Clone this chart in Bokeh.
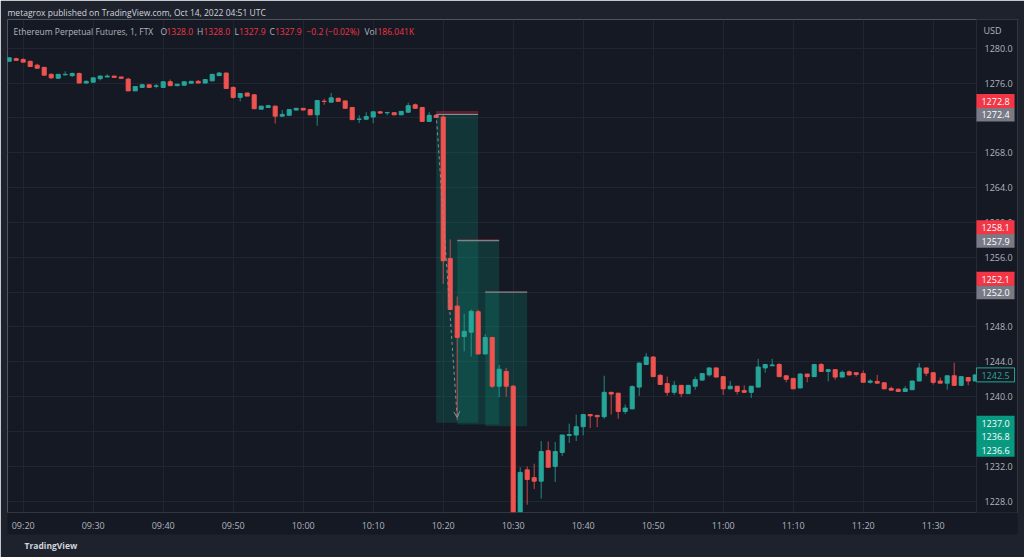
import pandas as pd
from bokeh.plotting import figure
from bokeh.models import (ColumnDataSource, LinearAxis, DatetimeAxis, FixedTicker,
                          DatetimeTickFormatter, NumeralTickFormatter, Label, Arrow,
                          OpenHead, Grid, Range1d, Title)
from bokeh.embed import file_html
from bokeh.resources import INLINE

# ---------------- data ----------------
session_day = "2022-10-13"
first_bar = "09:18"

opens = [1278.5, 1278.8, 1278.7, 1278.5, 1278.05, 1277.8, 1277.0, 1276.55, 1276.95, 1276.85,
         1277.1, 1276.0, 1276.1, 1276.5, 1276.7, 1276.8, 1276.7, 1276.45, 1275.1, 1275.5,
         1275.8, 1275.62, 1275.5, 1276.15, 1275.7, 1275.75, 1275.98, 1276.2, 1276.0, 1276.25,
         1276.85, 1277.15, 1275.5, 1274.35, 1274.85, 1274.65, 1273.0, 1273.2, 1273.35, 1272.2,
         1272.3, 1272.9, 1273.1, 1272.95, 1272.35, 1273.92, 1273.8, 1274.25, 1273.95, 1273.2,
         1271.83, 1271.85, 1272.1, 1272.7, 1272.58, 1272.6, 1272.35, 1272.65, 1273.5, 1273.2,
         1271.6, 1272.3, 1272.1, 1255.85, 1250.4, 1246.9, 1247.4, 1249.75, 1244.9, 1246.8,
         1241.2, 1242.9, 1241.2, 1226.2, 1231.6, 1230.7, 1230.3, 1233.8, 1232.0, 1233.6,
         1235.55, 1235.6, 1236.55, 1237.95, 1237.85, 1237.7, 1240.5, 1240.4, 1238.3, 1238.6,
         1241.1, 1243.7, 1244.55, 1242.45, 1241.5, 1240.5, 1241.3, 1240.35, 1241.2, 1241.9,
         1242.5, 1243.3, 1242.3, 1240.9, 1241.2, 1240.7, 1240.5, 1241.1, 1243.3, 1243.55,
         1243.7, 1242.4, 1242.1, 1241.0, 1242.6, 1242.3, 1243.7, 1242.9, 1243.1, 1242.25,
         1242.85, 1242.75, 1242.65, 1241.65, 1241.75, 1241.6, 1240.95, 1240.85, 1240.6, 1240.8,
         1241.8, 1243.3, 1242.75, 1241.8, 1241.55, 1242.4, 1241.3, 1242.2, 1241.8]
highs = [1278.9, 1278.9, 1278.85, 1278.5, 1278.2, 1277.8, 1277.1, 1277.0, 1277.35, 1277.2,
         1277.2, 1276.3, 1276.6, 1276.87, 1277.0, 1276.8, 1276.7, 1276.6, 1275.6, 1275.9,
         1275.8, 1275.9, 1276.15, 1276.4, 1275.87, 1276.15, 1276.2, 1276.35, 1276.4, 1277.0,
         1277.25, 1277.15, 1275.6, 1274.8, 1274.9, 1274.75, 1273.35, 1273.5, 1273.4, 1272.9,
         1272.95, 1273.1, 1273.1, 1273.0, 1274.05, 1274.2, 1274.85, 1274.3, 1273.95, 1273.2,
         1272.3, 1272.65, 1272.7, 1272.8, 1272.7, 1272.6, 1272.75, 1273.75, 1273.65, 1273.2,
         1272.65, 1272.4, 1272.3, 1258.05, 1251.5, 1249.5, 1250.0, 1250.0, 1247.2, 1246.8,
         1243.65, 1243.3, 1241.35, 1231.9, 1232.0, 1232.3, 1234.9, 1234.85, 1234.8, 1235.6,
         1236.9, 1237.95, 1237.95, 1237.95, 1237.85, 1242.4, 1240.55, 1240.4, 1239.1, 1241.3,
         1243.95, 1245.0, 1244.65, 1242.6, 1242.3, 1241.8, 1241.3, 1241.3, 1242.3, 1242.65,
         1243.3, 1243.3, 1242.3, 1241.8, 1241.2, 1241.3, 1241.2, 1244.35, 1243.7, 1244.35,
         1243.85, 1242.4, 1242.1, 1242.7, 1242.6, 1243.7, 1243.85, 1243.1, 1243.1, 1243.0,
         1243.0, 1242.75, 1243.0, 1242.0, 1242.5, 1241.6, 1241.15, 1240.95, 1241.2, 1241.8,
         1243.85, 1243.3, 1242.75, 1242.2, 1242.4, 1243.9, 1242.3, 1242.2, 1242.5]
lows = [1278.5, 1278.6, 1278.4, 1277.9, 1277.7, 1276.9, 1276.45, 1276.55, 1276.85, 1276.7,
        1276.0, 1275.95, 1276.1, 1276.3, 1276.65, 1276.65, 1276.45, 1275.1, 1275.1, 1275.5,
        1275.5, 1275.4, 1275.5, 1275.7, 1275.7, 1275.75, 1275.98, 1276.0, 1275.95, 1276.25,
        1276.85, 1275.37, 1274.2, 1273.9, 1274.5, 1273.05, 1273.0, 1273.2, 1271.35, 1272.2,
        1272.3, 1272.9, 1272.9, 1272.35, 1271.1, 1273.5, 1273.8, 1273.9, 1273.1, 1271.8,
        1271.4, 1271.85, 1271.4, 1272.45, 1272.3, 1272.35, 1272.35, 1272.65, 1273.1, 1271.6,
        1271.6, 1272.05, 1252.95, 1250.0, 1237.3, 1245.2, 1244.6, 1244.9, 1244.9, 1241.0,
        1239.95, 1240.0, 1226.0, 1226.0, 1227.6, 1229.4, 1228.3, 1231.9, 1230.2, 1233.2,
        1234.7, 1234.9, 1235.55, 1236.4, 1236.5, 1237.45, 1237.95, 1237.45, 1238.0, 1238.6,
        1240.1, 1243.7, 1242.3, 1241.4, 1240.1, 1240.2, 1239.95, 1240.35, 1240.8, 1241.9,
        1242.3, 1242.25, 1240.2, 1240.9, 1240.25, 1240.5, 1239.85, 1241.1, 1242.75, 1243.5,
        1242.3, 1241.65, 1240.9, 1241.0, 1241.65, 1242.3, 1242.9, 1241.75, 1241.95, 1242.25,
        1242.4, 1242.3, 1241.65, 1241.5, 1241.55, 1240.9, 1240.75, 1240.6, 1240.6, 1240.8,
        1241.8, 1242.35, 1241.4, 1241.55, 1240.8, 1241.3, 1241.3, 1241.3, 1241.8]
closes = [1278.9, 1278.6, 1278.4, 1277.9, 1277.7, 1276.9, 1276.6, 1277.0, 1277.0, 1277.1,
          1276.0, 1276.2, 1276.6, 1276.8, 1276.8, 1276.65, 1276.55, 1275.1, 1275.6, 1275.8,
          1275.5, 1275.68, 1276.15, 1275.7, 1275.87, 1276.15, 1276.2, 1276.0, 1276.4, 1277.0,
          1277.15, 1275.37, 1274.35, 1274.8, 1274.5, 1273.05, 1273.35, 1273.4, 1272.2, 1272.4,
          1272.95, 1273.1, 1272.9, 1272.35, 1274.0, 1273.88, 1274.3, 1273.9, 1273.1, 1271.8,
          1271.87, 1272.15, 1272.7, 1272.55, 1272.62, 1272.35, 1272.75, 1273.4, 1273.1, 1271.6,
          1272.3, 1272.05, 1255.6, 1250.0, 1246.8, 1247.5, 1249.8, 1244.9, 1246.8, 1241.2,
          1243.15, 1241.2, 1226.0, 1231.3, 1230.5, 1230.3, 1233.7, 1231.9, 1233.7, 1235.6,
          1235.65, 1236.55, 1237.95, 1237.8, 1237.7, 1240.5, 1240.3, 1238.3, 1238.7, 1241.15,
          1243.85, 1244.55, 1242.3, 1241.4, 1240.5, 1241.3, 1240.35, 1241.3, 1241.95, 1242.65,
          1243.3, 1242.25, 1240.9, 1241.2, 1240.6, 1240.5, 1241.2, 1243.4, 1243.7, 1243.65,
          1242.3, 1242.0, 1240.9, 1242.6, 1242.3, 1243.7, 1242.9, 1243.1, 1242.25, 1242.8,
          1242.5, 1242.55, 1241.65, 1241.8, 1241.55, 1240.9, 1240.75, 1240.6, 1240.9, 1241.8,
          1243.3, 1242.7, 1241.65, 1241.55, 1242.4, 1241.3, 1242.3, 1241.8, 1242.5]

time_tick_labels = ["09:20", "09:30", "09:40", "09:50", "10:00", "10:10", "10:20",
                    "10:30", "10:40", "10:50", "11:00", "11:10", "11:20", "11:30"]
price_ticks = [1228, 1232, 1236, 1240, 1244, 1248, 1252, 1256, 1260, 1264, 1268, 1272, 1276, 1280]

# short-position drawing tools
pos_start = ["10:19", "10:22", "10:26"]
pos_end = ["10:25", "10:28", "10:32"]
pos_entry = [1272.4, 1257.9, 1252.0]
pos_stop = [1272.8, 1258.1, 1252.1]
pos_target = [1237.0, 1236.8, 1236.6]

arrow_times = ["10:19", "10:22"]
arrow_prices = [1272.4, 1237.6]

last_price = 1242.5

header_text = "metagrox published on TradingView.com, Oct 14, 2022 04:51 UTC"
footer_text = "TradingView"
symbol_text = "Ethereum Perpetual Futures, 1, FTX"
ohlc_keys = ["O", "H", "L", "C"]
ohlc_vals = ["1328.0", "1328.0", "1327.9", "1327.9"]
change_text = "\u22120.2 (\u22120.02%)"
vol_key = "Vol"
vol_val = "186.041K"
currency = "USD"

# ---------------- helpers ----------------
EPOCH = pd.Timestamp("1970-01-01")
MIN = 60000.0


def ms(hhmm):
    return (pd.Timestamp(f"{session_day} {hhmm}") - EPOCH) / pd.Timedelta(milliseconds=1)


t0 = ms(first_bar)
times = [t0 + i * MIN for i in range(len(opens))]

# canvas geometry (px)
W, H = 1024, 557
FL, FR, FT, FB = 7, 1017, 19, 512   # frame: chart pane incl. price scale column
SCALE_L = 976                        # left edge of the price scale column
PX_PER_MIN = 7.0
X0_PX = 8.7                          # pixel of first bar


def px_x(px):
    return t0 + (px - X0_PX) / PX_PER_MIN * MIN


x_start, x_end = px_x(FL), px_x(FR)
y_top = 1283.294
y_bot = 1226.705


def px_y(py):
    return y_top - (py - FT) / (FB - FT) * (y_top - y_bot)


def y_px(price):
    return FT + (y_top - price) / (y_top - y_bot) * (FB - FT)


BG = "#151924"
OUTER = "#1e222d"
GRID = "#212531"
UP = "#26a69a"
DOWN = "#ef5350"
TXT = "#b2b5be"
FONT = "Open Sans"

p = figure(width=W, height=H, output_backend="svg", toolbar_location=None,
           x_axis_location=None, y_axis_location=None,
           x_range=Range1d(x_start, x_end), y_range=Range1d(y_bot, y_top),
           background_fill_color=BG, border_fill_color=OUTER,
           min_border_left=FL, min_border_right=W - FR,
           min_border_top=FT, min_border_bottom=H - FB, outline_line_color=None)
for g in p.grid:
    g.visible = False

xticks = [ms(t) for t in time_tick_labels]
p.add_layout(Grid(dimension=0, ticker=FixedTicker(ticks=xticks), grid_line_color=GRID))
p.add_layout(Grid(dimension=1, ticker=FixedTicker(ticks=price_ticks), grid_line_color=GRID))

# axes
xaxis = DatetimeAxis(ticker=FixedTicker(ticks=xticks),
                     formatter=DatetimeTickFormatter(minutes="%H:%M", hourmin="%H:%M",
                                                     hours="%H:%M", minsec="%H:%M"))
yaxis = LinearAxis(ticker=FixedTicker(ticks=price_ticks),
                   formatter=NumeralTickFormatter(format="0.0"))
for ax in (xaxis, yaxis):
    ax.major_label_text_color = TXT
    ax.major_label_text_font = FONT
    ax.major_label_text_font_size = "9px"
    ax.axis_line_color = None
    ax.major_tick_line_color = None
    ax.minor_tick_line_color = None
    ax.major_tick_in = 0
    ax.major_tick_out = 0
    try:
        ax.background_fill_color = BG
    except Exception:
        pass
xaxis.major_tick_out = 4
xaxis.major_label_standoff = 2
yaxis.major_label_standoff = -(FR - 984)
p.add_layout(xaxis, "below")
p.add_layout(yaxis, "right")

# header / footer titles (outside the pane)
p.add_layout(Title(text=footer_text, align="left", text_color="#d1d4dc", text_font=FONT,
                   text_font_size="8.5px", text_font_style="bold", offset=17, standoff=6),
             "below")
p.add_layout(Title(text=header_text, align="left", text_color="#d1d4dc", text_font=FONT,
                   text_font_size="8.5px", text_font_style="normal", standoff=3), "above")

# position tools (under candles)
for s, e, en, st, tg in zip(pos_start, pos_end, pos_entry, pos_stop, pos_target):
    p.quad(left=ms(s), right=ms(e), top=en, bottom=tg, fill_color="#089981",
           fill_alpha=0.22, line_color=None)
    p.quad(left=ms(s), right=ms(e), top=st, bottom=en, fill_color="#f23645",
           fill_alpha=0.3, line_color=None)
    p.segment(x0=ms(s), y0=en, x1=ms(e), y1=en, line_color="#9598a1", line_width=1)

# candles
src = ColumnDataSource(dict(
    t=times, o=opens, h=highs, l=lows, c=closes,
    top=[max(a, b) for a, b in zip(opens, closes)],
    bot=[min(a, b) for a, b in zip(opens, closes)],
    col=[UP if c >= o else DOWN for o, c in zip(opens, closes)],
))
p.segment(x0="t", y0="l", x1="t", y1="h", line_color="col", line_width=1, line_alpha=0.8, source=src)
p.vbar(x="t", width=0.58 * MIN, top="top", bottom="bot", fill_color="col", line_color="col",
       line_width=1, source=src)

# dashed projection arrow
p.add_layout(Arrow(x_start=ms(arrow_times[0]), y_start=arrow_prices[0],
                   x_end=ms(arrow_times[1]), y_end=arrow_prices[1],
                   line_color="#8a8d96", line_dash="3 3", line_width=1,
                   end=OpenHead(size=6, line_color="#8a8d96", line_width=1)))

# price-scale column background (covers grid / last candle) and separator
p.quad(left=px_x(SCALE_L), right=px_x(FR + 2), top=y_top + 5, bottom=y_bot - 5,
       fill_color=BG, line_color=None)
p.segment(x0=px_x(SCALE_L), y0=y_bot - 5, x1=px_x(SCALE_L), y1=y_top + 5,
          line_color="#262a35", line_width=1)

# ---------------- texts inside the pane ----------------
LEG = "8.5px"


def add_text(px, py, text, color=TXT, size=LEG, align="left", style="normal"):
    p.add_layout(Label(x=px_x(px), y=px_y(py), text=text, text_color=color,
                       text_font=FONT, text_font_size=size, text_align=align,
                       text_baseline="middle", text_font_style=style))


add_text(13, 30.5, symbol_text)
ohlc_x = [160, 196.5, 234, 269]
val_x = [166, 203, 238.5, 274.5]
for k, v, kx, vx in zip(ohlc_keys, ohlc_vals, ohlc_x, val_x):
    add_text(kx, 30.5, k)
    add_text(vx, 30.5, v, color="#f23645")
add_text(306, 30.5, change_text, color="#f23645")
add_text(364, 30.5, vol_key)
add_text(377, 30.5, vol_val, color="#f23645")
add_text(983, 30, currency, size="9px")

# price tags on the scale
TAG_H = 13.5
PAD = dict(left=5, right=5, top=4, bottom=3)


def tag(center_py, text, bg, fg="#ffffff", border=None):
    p.add_layout(Label(x=px_x(995), y=px_y(center_py), text=text, text_color=fg,
                       text_font=FONT, text_font_size="9px", text_align="center",
                       text_baseline="middle", background_fill_color=bg,
                       border_line_color=border, padding=PAD))


for en, st in zip(pos_entry, pos_stop):
    c = y_px(en)
    tag(c, f"{en:.1f}", "#787b86")
    tag(c - TAG_H, f"{st:.1f}", "#f23645")
c0 = y_px(pos_target[0])
for i, tg in enumerate(pos_target):
    tag(c0 + i * TAG_H, f"{tg:.1f}", "#089981")
tag(y_px(last_price), f"{last_price:.1f}", BG, fg=UP, border=UP)

open("out.html", "w").write(file_html(p, INLINE))
